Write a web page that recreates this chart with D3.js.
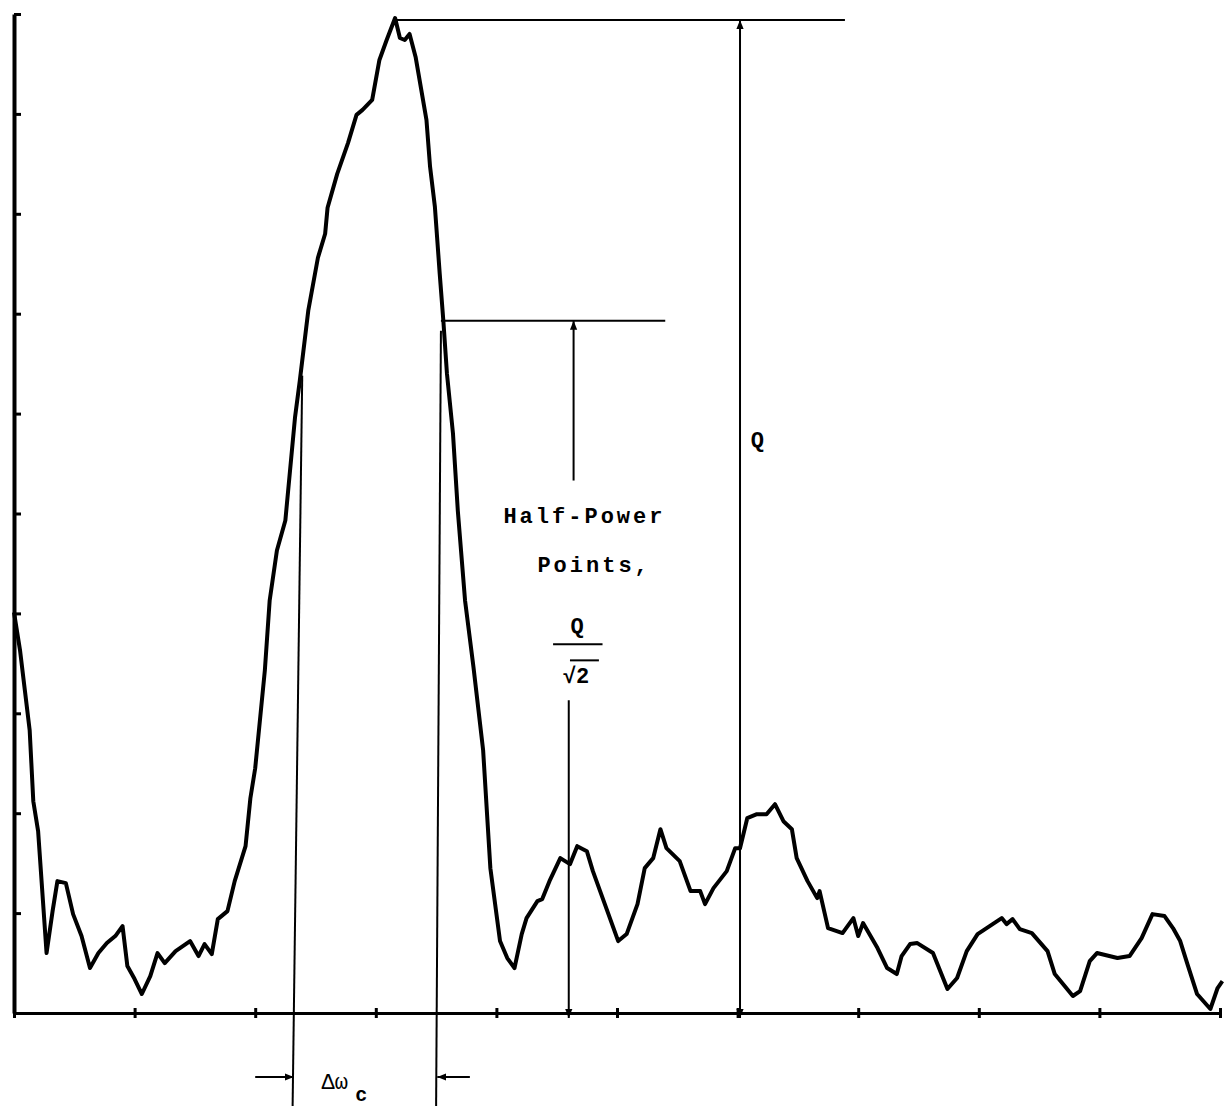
<!DOCTYPE html>
<html>
<head>
<meta charset="utf-8">
<script src="https://cdn.jsdelivr.net/npm/d3@7"></script>
<style>
  body { margin: 0; background: #fff; }
  svg { display: block; }
  .lbl { font-family: "Liberation Mono", "DejaVu Sans Mono", monospace; font-weight: bold; fill: #000; }
</style>
</head>
<body>
<svg id="chart"></svg>
<script>
var WIDTH = 1224;
var HEIGHT = 1106;

// frequency (x) and response (y), both in axis units (0-100)
var freq = [0, 0.5, 0.9, 1.3, 1.6, 2.0, 2.7, 3.2, 3.6, 4.3, 4.9, 5.6, 6.3, 7.0, 7.7, 8.4, 9.0, 9.4, 10.0, 10.6,
  11.3, 11.9, 12.5, 13.4, 14.6, 15.3, 15.8, 16.4, 16.9, 17.7, 18.3, 19.2, 19.6, 20.0, 20.8, 21.2, 21.8, 22.5,
  23.3, 23.7, 24.4, 25.2, 25.8, 26.0, 26.8, 27.7, 28.4, 28.9, 29.7, 30.3, 30.9, 31.6, 32.0, 32.4, 32.8, 33.3,
  34.2, 34.5, 34.9, 35.3, 35.6, 35.9, 36.4, 36.8, 37.4, 38.1, 38.9, 39.5, 40.3, 40.9, 41.5, 42.1, 42.5, 43.4,
  43.8, 44.4, 45.3, 46.1, 46.7, 47.5, 48.0, 48.6, 49.2, 50.1, 50.8, 51.7, 52.3, 53.0, 53.6, 54.1, 55.2, 56.1,
  56.9, 57.3, 58.0, 59.1, 59.8, 60.2, 60.8, 61.6, 62.4, 63.1, 63.8, 64.5, 64.9, 65.8, 66.6, 66.8, 67.5, 68.7,
  69.6, 70.0, 70.4, 71.6, 72.4, 73.2, 73.6, 74.3, 74.9, 76.2, 77.4, 78.2, 79.0, 79.9, 80.9, 81.9, 82.3, 82.8,
  83.4, 84.4, 85.7, 86.3, 87.8, 88.4, 89.2, 89.8, 91.5, 92.5, 93.5, 94.4, 95.4, 96.1, 96.7, 97.3, 98.1, 99.2,
  99.8, 100.2];
var response = [40.1, 36.3, 32.3, 28.3, 21.2, 18.2, 6.0, 10.2, 13.2, 13.0, 9.9, 7.7, 4.5, 6.0, 7.0, 7.7, 8.7, 4.7, 3.4, 1.9,
  3.7, 6.0, 5.0, 6.2, 7.2, 5.7, 6.9, 5.9, 9.4, 10.2, 13.2, 16.7, 21.5, 24.5, 34.3, 41.3, 46.3, 49.3,
  59.6, 63.3, 70.3, 75.6, 78.0, 80.6, 84.0, 87.1, 89.9, 90.4, 91.4, 95.4, 97.4, 99.6, 97.6, 97.4, 98.0, 95.7,
  89.4, 84.7, 80.7, 74.0, 69.3, 64.0, 58.0, 50.3, 41.3, 34.6, 26.3, 14.5, 7.2, 5.5, 4.5, 7.9, 9.5, 11.2,
  11.4, 13.2, 15.5, 14.9, 16.7, 16.2, 14.2, 12.2, 10.2, 7.2, 7.9, 10.9, 14.5, 15.5, 18.4, 16.5, 15.2, 12.2,
  12.2, 10.9, 12.5, 14.2, 16.5, 16.5, 19.5, 19.9, 19.9, 20.9, 19.2, 18.4, 15.5, 13.2, 11.5, 12.2, 8.5, 8.0,
  9.5, 7.7, 9.0, 6.5, 4.5, 3.9, 5.7, 6.9, 7.0, 6.0, 2.4, 3.5, 6.2, 7.9, 8.7, 9.5, 8.9, 9.4,
  8.4, 8.0, 6.2, 3.9, 1.7, 2.2, 5.2, 6.0, 5.5, 5.7, 7.5, 9.9, 9.7, 8.5, 7.2, 4.9, 1.9, 0.4,
  2.5, 3.2];

var xTicks = [0, 10, 20, 30, 40, 50, 60, 70, 80, 90, 100];
var yTicks = [0, 10, 20, 30, 40, 50, 60, 70, 80, 90, 100];

// annotation values (axis units)
var peakX = 31.6, peakLevel = 99.4, peakLineEnd = 68.9;
var halfLevel = 69.3, halfLineStart = 35.4, halfLineEnd = 54.0;
var qArrowX = 60.2;
var hpArrowX = 46.4;
var bwLeft = 23.5, bwRight = 35.2, bwLeftTop = 63.8;
var belowAxis = -9.5;

var x = d3.scaleLinear().domain([0, 100]).range([14, 1220]);
var y = d3.scaleLinear().domain([0, 100]).range([1013, 14]);

var svg = d3.select("#chart")
  .attr("width", WIDTH)
  .attr("height", HEIGHT)
  .style("background", "#fff");

var defs = svg.append("defs");
defs.append("marker")
  .attr("id", "head")
  .attr("viewBox", "0 0 10 10")
  .attr("refX", 10).attr("refY", 5)
  .attr("markerWidth", 9).attr("markerHeight", 9)
  .attr("markerUnits", "userSpaceOnUse")
  .attr("orient", "auto-start-reverse")
  .append("path")
  .attr("d", "M0,1 L10,5 L0,9 Z")
  .attr("fill", "#000");

// axes
var xAxis = svg.append("g")
  .attr("transform", "translate(0," + y(0) + ")")
  .call(d3.axisBottom(x).tickValues(xTicks).tickSize(5).tickSizeOuter(0).tickFormat(""));
xAxis.select(".domain").attr("stroke-width", 3);
xAxis.selectAll(".tick line").attr("y1", -5).attr("y2", 5).attr("stroke-width", 3);

var yAxis = svg.append("g")
  .attr("transform", "translate(" + x(0) + ",0)")
  .call(d3.axisRight(y).tickValues(yTicks).tickSize(7).tickSizeOuter(0).tickFormat(""));
yAxis.select(".domain").attr("stroke-width", 4);
yAxis.selectAll(".tick line").attr("stroke-width", 3);

// response trace
var pts = freq.map(function(f, i) { return [f, response[i]]; });
var line = d3.line()
  .x(function(d) { return x(d[0]); })
  .y(function(d) { return y(d[1]); });

svg.append("path")
  .datum(pts)
  .attr("d", line)
  .attr("fill", "none")
  .attr("stroke", "#000")
  .attr("stroke-width", 4)
  .attr("stroke-linejoin", "round");

// annotation lines
var ann = svg.append("g").attr("stroke", "#000").attr("stroke-width", 2).attr("fill", "none");

ann.append("line")
  .attr("x1", x(peakX)).attr("y1", y(peakLevel))
  .attr("x2", x(peakLineEnd)).attr("y2", y(peakLevel));

ann.append("line")
  .attr("x1", x(halfLineStart)).attr("y1", y(halfLevel))
  .attr("x2", x(halfLineEnd)).attr("y2", y(halfLevel));

// Q arrow
ann.append("line")
  .attr("x1", x(qArrowX)).attr("y1", y(peakLevel))
  .attr("x2", x(qArrowX)).attr("y2", y(-0.5))
  .attr("marker-start", "url(#head)")
  .attr("marker-end", "url(#head)");

// Q/sqrt2 arrow, broken around the label
ann.append("line")
  .attr("x1", x(hpArrowX)).attr("y1", y(halfLevel))
  .attr("x2", x(hpArrowX)).attr("y2", y(53.3))
  .attr("marker-start", "url(#head)");
ann.append("line")
  .attr("x1", x(hpArrowX - 0.4)).attr("y1", y(31.3))
  .attr("x2", x(hpArrowX - 0.4)).attr("y2", y(-0.5))
  .attr("marker-end", "url(#head)");

// bandwidth lines
ann.append("line")
  .attr("x1", x(bwLeft + 0.4)).attr("y1", y(bwLeftTop))
  .attr("x2", x(bwLeft - 0.4)).attr("y2", y(belowAxis));
ann.append("line")
  .attr("x1", x(bwRight + 0.2)).attr("y1", y(halfLevel - 1))
  .attr("x2", x(bwRight - 0.2)).attr("y2", y(belowAxis));

ann.append("line")
  .attr("x1", x(20.0)).attr("y1", y(-6.4))
  .attr("x2", x(bwLeft - 0.3)).attr("y2", y(-6.4))
  .attr("marker-end", "url(#head)");
ann.append("line")
  .attr("x1", x(37.8)).attr("y1", y(-6.4))
  .attr("x2", x(bwRight - 0.1)).attr("y2", y(-6.4))
  .attr("marker-end", "url(#head)");

// labels
var lbl = svg.append("g").attr("class", "lbl").style("font-size", "22px");

lbl.append("text")
  .attr("x", x(47.3)).attr("y", y(49.0))
  .attr("text-anchor", "middle")
  .style("letter-spacing", "3px")
  .text("Half-Power");

lbl.append("text")
  .attr("x", x(43.4)).attr("y", y(44.1))
  .style("letter-spacing", "3px")
  .text("Points,");

lbl.append("text")
  .attr("x", x(46.7)).attr("y", y(38.0))
  .attr("text-anchor", "middle")
  .text("Q");
ann.append("line")
  .attr("x1", x(44.7)).attr("y1", y(36.9))
  .attr("x2", x(48.8)).attr("y2", y(36.9));
lbl.append("text")
  .attr("x", x(46.6)).attr("y", y(33.0))
  .attr("text-anchor", "middle")
  .text("\u221A2");
ann.append("line")
  .attr("x1", x(46.1)).attr("y1", y(35.3))
  .attr("x2", x(48.5)).attr("y2", y(35.3));

lbl.append("text")
  .attr("x", x(61.1)).attr("y", y(56.7))
  .text("Q");

lbl.append("text")
  .attr("x", x(25.5)).attr("y", y(-7.6))
  .style("font-weight", "normal")
  .text("\u0394\u03C9");
lbl.append("text")
  .attr("x", x(28.3)).attr("y", y(-8.8))
  .style("font-size", "20px")
  .text("c");
</script>
</body>
</html>
